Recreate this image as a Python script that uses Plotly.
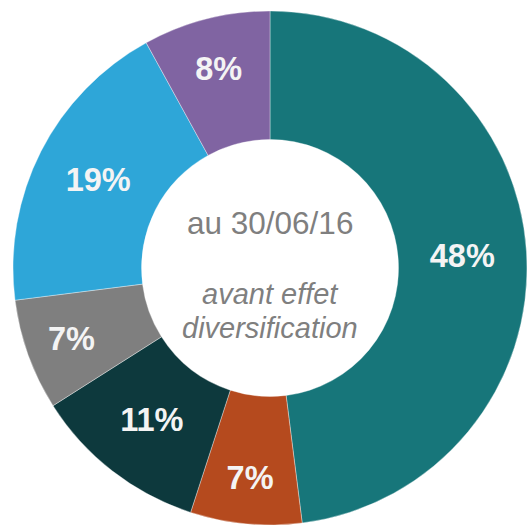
import plotly.graph_objects as go

labels = ["A", "B", "C", "D", "E", "F"]
values = [48, 7, 11, 7, 19, 8]
colors = ["#17767A", "#B54A1E", "#0D393D", "#7F7F7F", "#2EA6D8", "#8064A2"]
center_lines = ["au 30/06/16", "<i>avant effet</i>", "<i>diversification</i>"]
center_y = [0.575, 0.44, 0.375]
center_size = [31.5, 29, 29]

W, H = 527, 525
fig = go.Figure(go.Pie(
    labels=labels,
    values=values,
    sort=False,
    direction="clockwise",
    rotation=0,
    hole=0.5,
    marker=dict(colors=colors, line=dict(color="rgba(255,255,255,0.6)", width=0.6)),
    textinfo="percent",
    texttemplate="<b>%{percent:.0%}</b>",
    textposition="inside",
    insidetextorientation="horizontal",
    insidetextfont=dict(family="Arial, Liberation Sans, sans-serif", size=32.5, color="#F4F4F4"),
    domain=dict(x=[13 / W, 1.0], y=[0.0, 514 / H]),
    showlegend=False,
    hoverinfo="skip",
))

cx = 270 / W
for txt, yy, sz in zip(center_lines, center_y, center_size):
    fig.add_annotation(
        x=cx, y=yy, xref="paper", yref="paper", text=txt, showarrow=False,
        font=dict(family="Arial, Liberation Sans, sans-serif", size=sz, color="#7F7F7F"),
        xanchor="center", yanchor="middle",
    )

fig.update_layout(
    width=W, height=H,
    margin=dict(l=0, r=0, t=0, b=0),
    paper_bgcolor="white", plot_bgcolor="white",
    uniformtext=dict(minsize=32.5, mode="show"),
)
fig.write_html(
    "out.html",
    config={"displayModeBar": False, "staticPlot": True},
    post_script="document.body.style.margin='0';document.body.style.overflow='hidden';",
)
